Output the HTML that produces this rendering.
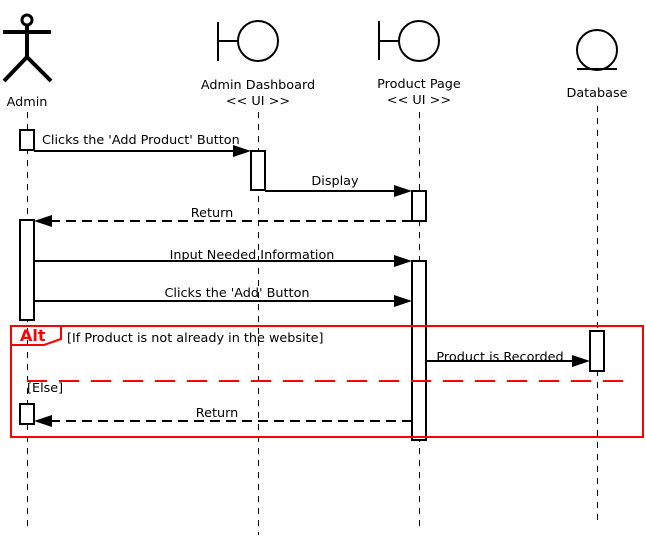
<!DOCTYPE html>
<html><head><style>html,body{margin:0;padding:0;background:#fff}svg{display:block}
text{font-family:"DejaVu Sans","Liberation Sans",sans-serif;font-size:12.8px;fill:#000}
text.alt{font-size:16px;font-weight:bold;fill:#f00}</style></head>
<body>
<svg width="646" height="540" xmlns="http://www.w3.org/2000/svg">
<rect width="646" height="540" fill="#fff"/>
<g stroke="#000" stroke-width="1" stroke-dasharray="6,6">
<line x1="27.5" y1="112" x2="27.5" y2="530"/>
<line x1="258.5" y1="112" x2="258.5" y2="535"/>
<line x1="419.5" y1="112" x2="419.5" y2="528"/>
<line x1="597.5" y1="106" x2="597.5" y2="525"/>
</g>
<g stroke="#000" stroke-width="4" fill="none">
<circle cx="27" cy="20" r="5" stroke-width="3"/>
<line x1="3" y1="32" x2="51" y2="32"/>
<line x1="27" y1="25" x2="27" y2="57"/>
<line x1="27" y1="57" x2="4" y2="81"/>
<line x1="27" y1="57" x2="51" y2="81"/>
</g>
<text x="27" y="106" text-anchor="middle">Admin</text>
<g stroke="#000" stroke-width="2" fill="none">
<line x1="218" y1="22" x2="218" y2="61"/><line x1="218" y1="41" x2="238" y2="41"/><circle cx="258" cy="41" r="20"/>
<line x1="379" y1="21" x2="379" y2="60"/><line x1="379" y1="41" x2="399" y2="41"/><circle cx="419" cy="41" r="20"/>
<circle cx="597" cy="50" r="20"/><line x1="577" y1="69" x2="617" y2="69"/>
</g>
<text x="258" y="89" text-anchor="middle">Admin Dashboard</text>
<text x="258" y="105" text-anchor="middle">&lt;&lt; UI &gt;&gt;</text>
<text x="419" y="88" text-anchor="middle">Product Page</text>
<text x="419" y="104" text-anchor="middle">&lt;&lt; UI &gt;&gt;</text>
<text x="597" y="97" text-anchor="middle">Database</text>
<g stroke="#000" stroke-width="2" fill="#fff">
<rect x="20" y="130" width="14" height="20"/>
<rect x="251" y="151" width="14" height="39"/>
<rect x="412" y="191" width="14" height="30"/>
<rect x="20" y="220" width="14" height="100"/>
<rect x="412" y="261" width="14" height="179"/>
<rect x="590" y="331" width="14" height="40"/>
<rect x="20" y="404" width="14" height="20"/>
</g>
<g stroke="#000" stroke-width="2">
<line x1="34" y1="151" x2="240" y2="151"/>
<line x1="265" y1="191" x2="400" y2="191"/>
<line x1="412" y1="221" x2="50" y2="221" stroke-dasharray="10,6"/>
<line x1="34" y1="261" x2="400" y2="261"/>
<line x1="34" y1="301" x2="400" y2="301"/>
<line x1="426" y1="361" x2="578" y2="361"/>
<line x1="412" y1="421" x2="50" y2="421" stroke-dasharray="10,6"/>
</g>
<g fill="#000">
<polygon points="233,145 251,151 233,157"/>
<polygon points="394,185 412,191 394,197"/>
<polygon points="52,215 34,221 52,227"/>
<polygon points="394,255 412,261 394,267"/>
<polygon points="394,295 412,301 394,307"/>
<polygon points="572,355 590,361 572,367"/>
<polygon points="52,415 34,421 52,427"/>
</g>
<text x="42" y="144">Clicks the 'Add Product' Button</text>
<text x="335" y="185" text-anchor="middle">Display</text>
<text x="212" y="217" text-anchor="middle">Return</text>
<text x="252" y="259" text-anchor="middle">Input Needed Information</text>
<text x="237" y="297" text-anchor="middle">Clicks the 'Add' Button</text>
<text x="500" y="361" text-anchor="middle">Product is Recorded</text>
<text x="217" y="417" text-anchor="middle">Return</text>
<rect x="11" y="326" width="632" height="111" fill="none" stroke="#f00" stroke-width="2"/>
<polyline points="11,345 44,345 61,339 61,327" fill="none" stroke="#f00" stroke-width="2"/>
<text class="alt" x="20" y="341">Alt</text>
<text x="67" y="342">[If Product is not already in the website]</text>
<line x1="27" y1="381" x2="632" y2="381" stroke="#f00" stroke-width="2" stroke-dasharray="20,12"/>
<text x="27" y="392">[Else]</text>
</svg>
</body></html>
